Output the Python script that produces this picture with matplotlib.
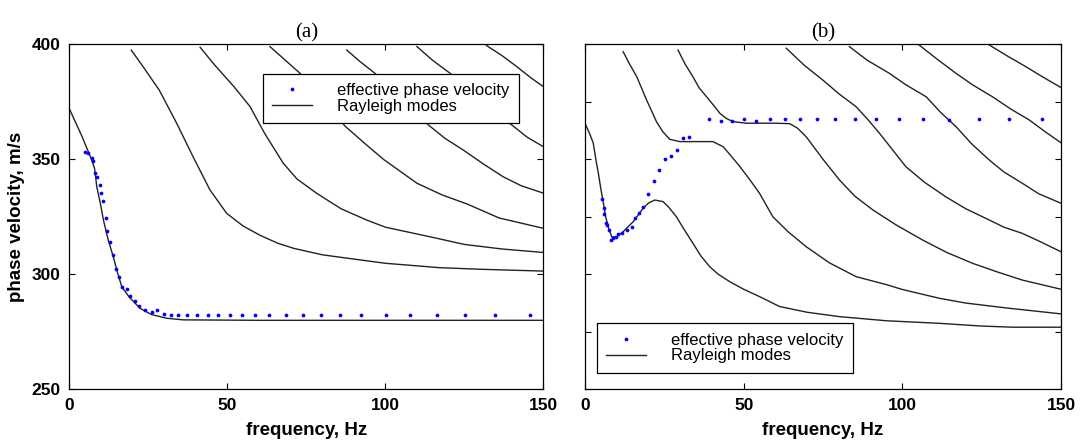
import matplotlib
matplotlib.use("Agg")
from matplotlib import pyplot as plt

# panel (a): Rayleigh modes, (frequency Hz, phase velocity m/s)
a_mode0 = [(0, 372), (2, 366), (4, 360), (7, 350), (8, 346), (8.7, 338), (9.8, 331),
           (10.8, 323.6), (12.3, 315), (13.9, 307.7), (15.2, 301), (16.6, 294.6),
           (19, 290), (22.4, 285.2), (26, 282.5), (30.8, 280.9), (36, 280.2),
           (60, 280), (150, 280)]
a_mode1 = [(19.6, 397.5), (24, 389), (28.5, 380), (34, 365.6), (39.2, 351), (44.5, 336.7),
           (49.8, 326.5), (55, 321), (60.3, 317), (66, 313.5), (71, 311.3), (80, 308.5),
           (88, 307), (100, 304.8), (117, 302.9), (130, 302.2), (150, 301.4)]
a_mode2 = [(41.4, 398.7), (46, 391), (52.1, 381.6), (57.2, 372.9), (61.8, 361.3),
           (67.7, 348.3), (72, 341.5), (78.3, 335.2), (86, 328.5), (94.1, 323.6),
           (100, 320.5), (115.2, 316), (125, 313), (137, 311), (150, 309.5)]
a_mode3 = [(63.5, 399), (68, 393.5), (73, 387.4), (80, 377), (87.2, 364.5), (93, 357.5),
           (99.4, 350), (105, 344.5), (110, 339.6), (118, 334.5), (126, 330.5),
           (136, 324.5), (150, 320)]
a_mode4 = [(87.8, 397.5), (92, 392.5), (96.7, 387.4), (105, 376), (114.1, 364.4),
           (119, 359), (124.7, 354), (131, 348), (137.3, 342.4), (143, 338.5), (150, 335.3)]
a_mode5 = [(110, 399), (115, 393), (120.5, 387.4), (130, 376), (140.5, 364.4),
           (145, 359.5), (150, 355.5)]
a_mode6 = [(132, 399.5), (137, 395), (141.6, 390.3), (146, 385.5), (150, 381.6)]

# panel (a): effective phase velocity
a_eff_f = [5.0, 6.0, 7.1, 7.6, 8.1, 8.7, 9.7, 10.0, 10.6, 11.5, 12.0, 12.9, 13.9, 14.8,
           15.8, 16.6, 18.2, 19.2, 20.8, 22.1, 23.9, 26.1, 27.8, 30.0, 32.2, 34.5, 37.3,
           40.3, 43.8, 47.2, 50.9, 54.7, 58.8, 63.2, 68.5, 73.8, 79.5, 85.7, 92.4, 100.1,
           107.7, 116.3, 125.3, 134.8, 145.9]
a_eff_v = [353.3, 352.6, 350.4, 349.4, 344.2, 342.4, 338.8, 335.2, 332, 324.6, 318.8,
           314.2, 308.4, 302.2, 299, 294.3, 293.7, 290.6, 288.4, 286.2, 284.5, 283.6,
           284.5, 282.6, 282.5, 282.5, 282.5, 282.5, 282.5, 282.5, 282.5, 282.5, 282.5,
           282.5, 282.5, 282.5, 282.5, 282.5, 282.5, 282.5, 282.5, 282.5, 282.5, 282.5,
           282.5]

# panel (b): Rayleigh modes
b_mode0 = [(0, 365.6), (1.5, 361), (2.6, 357), (3.4, 350), (4.2, 343.9), (5, 337),
           (5.8, 330.9), (6.5, 325), (7.3, 320.7), (8.4, 316.3), (10, 316.3), (12, 318.5),
           (15.2, 322.9), (18.3, 328.7), (20, 331), (22, 332.3), (24.6, 331.6),
           (26.5, 329), (28.8, 325), (31, 320), (34, 313.5), (36.5, 308), (39.3, 303.3),
           (42, 300), (45.6, 296.8), (50, 293.5), (55, 290.3), (61.3, 286), (70, 283.5),
           (80.2, 281.6), (95, 279.8), (111.6, 278.7), (125, 277.5), (135, 277), (150, 277)]
b_mode1 = [(12, 396.8), (14, 391.5), (16.3, 385.9), (19.4, 375.8), (22.5, 366.4),
           (24.5, 362), (26.7, 358.7), (29.9, 357.7), (35, 357.7), (40.3, 357.7),
           (43.5, 355.5), (46, 351.5), (48.7, 347), (52, 341), (55, 335.2), (59.2, 325),
           (64, 318.5), (69.7, 312), (77, 305), (85.4, 299), (95, 295.5), (100, 293.4),
           (111.6, 289.6), (120, 287.5), (132.6, 285.4), (150, 282.8)]
b_mode2 = [(29.3, 397.5), (31.5, 391.5), (34, 385.9), (36, 381), (38.3, 377.2),
           (40.5, 373.5), (42.5, 370), (44.5, 367.8), (46.6, 366.4), (50.8, 365.7),
           (55, 365.7), (60, 365.7), (64.5, 365.5), (67, 363.5), (69.7, 359.8), (75, 350),
           (80.2, 341), (85, 334), (90.7, 328), (98, 321.5), (106.4, 314.9), (114, 309.5),
           (122.1, 304.8), (130, 301), (137.8, 297.5), (150, 293.5)]
b_mode3 = [(63.4, 398.3), (69, 391), (74.9, 384.5), (80, 378.5), (85.4, 372.9),
           (89, 367.5), (92.8, 361.3), (97, 354), (101.1, 346.8), (107, 340),
           (113.7, 333.7), (120, 328.5), (127.4, 323.6), (132, 320.5), (137.8, 317.8),
           (143, 314.5), (150, 309.8)]
b_mode4 = [(83.3, 399), (89, 393), (95.9, 387.4), (101, 382.5), (107.5, 377.2),
           (112, 370.5), (116.9, 364.2), (122, 356.5), (127.4, 349.7), (132, 344.5),
           (137.8, 339.6), (143, 335), (150, 330.9)]
b_mode5 = [(105.3, 399.7), (111, 393.5), (116.9, 387.4), (122, 382.5), (128.4, 377.2),
           (134, 372), (140, 367.1), (145, 362), (150, 357.2)]
b_mode6 = [(127.4, 399.7), (133, 395), (138.9, 390.3), (144, 386), (150, 381.2)]

# panel (b): effective phase velocity
b_eff_f = [5.45, 6.0, 6.1, 6.6, 7.0, 7.6, 8.2, 8.9, 9.7, 10.5, 11.5, 13.1, 14.7, 15.7,
           17.1, 18.3, 19.9, 21.7, 23.3, 25.3, 27.0, 29.0, 30.9, 32.8, 39.2, 42.7, 46.2,
           50.0, 53.8, 58.2, 62.9, 67.8, 73.1, 78.9, 85.0, 91.8, 99.0, 106.6, 114.8,
           124.0, 133.6, 144.1]
b_eff_v = [332.7, 328.7, 326.2, 322.4, 321.4, 319.3, 314.9, 315.7, 316.3, 317.5, 318.1,
           319.3, 320.7, 324.6, 326.5, 329.4, 334.8, 340.6, 345.3, 350.1, 351.4, 354.2,
           359.4, 359.8, 367.4, 366.8, 366.8, 367.4, 366.6, 367.4, 367.4, 367.4, 367.4,
           367.4, 367.4, 367.4, 367.4, 367.4, 367.2, 367.4, 367.4, 367.4]

a_modes = [a_mode0, a_mode1, a_mode2, a_mode3, a_mode4, a_mode5, a_mode6]
b_modes = [b_mode0, b_mode1, b_mode2, b_mode3, b_mode4, b_mode5, b_mode6]

plt.rcParams['font.family'] = ['Liberation Sans', 'DejaVu Sans']

fig = plt.figure(figsize=(10.83, 4.41), dpi=100)
ax_a = fig.add_axes([0.064, 0.1172, 0.4377, 0.7823])
ax_b = fig.add_axes([0.5402, 0.1172, 0.4395, 0.7823])

line_col = '#222222'
for ax, modes, ef, ev, title in [(ax_a, a_modes, a_eff_f, a_eff_v, '(a)'),
                                 (ax_b, b_modes, b_eff_f, b_eff_v, '(b)')]:
    dots, = ax.plot(ef, ev, 'o', color='#0000ff', ms=2.7, mew=0, zorder=3)
    for i, m in enumerate(modes):
        f = [p[0] for p in m]
        v = [p[1] for p in m]
        ln, = ax.plot(f, v, color=line_col, lw=1.0, zorder=2)
        if i == 0:
            mode_line = ln
    ax.set_xlim(0, 150)
    ax.set_ylim(250, 400)
    ax.set_xticks([0, 50, 100, 150])
    ax.tick_params(direction='in', top=True, right=True, length=4, width=0.8,
                   labelsize=12.5, pad=6)
    for lab in ax.get_xticklabels() + ax.get_yticklabels():
        lab.set_fontweight('bold')
    for s in ax.spines.values():
        s.set_linewidth(0.9)
    ax.set_xlabel('frequency, Hz', fontsize=13.5, fontweight='bold', labelpad=7)
    ax.set_title(title, family='Liberation Serif', fontsize=15, pad=5)
    ax.dots = dots
    ax.mode_line = mode_line

ax_a.set_yticks([250, 300, 350, 400])
ax_a.set_ylabel('phase velocity, m/s', fontsize=13.5, fontweight='bold', labelpad=5)
ax_b.set_yticks([250, 275, 300, 325, 350, 375, 400])
ax_b.set_yticklabels([])

leg_kw = dict(numpoints=1, fontsize=12, frameon=True, fancybox=False, framealpha=1,
              edgecolor='black', handlelength=2.4, handletextpad=1.5, borderpad=0.55,
              labelspacing=0.05, borderaxespad=0)
la = ax_a.legend([ax_a.dots, ax_a.mode_line], ['effective phase velocity', 'Rayleigh modes'],
                 loc='upper left', bbox_to_anchor=(0.409, 0.914), **leg_kw)
lb = ax_b.legend([ax_b.dots, ax_b.mode_line], ['effective phase velocity', 'Rayleigh modes'],
                 loc='upper left', bbox_to_anchor=(0.025, 0.191), **leg_kw)
for lg in (la, lb):
    lg.get_frame().set_linewidth(0.9)
    lg.set_zorder(5)

plt.savefig('out.png', dpi=100)
